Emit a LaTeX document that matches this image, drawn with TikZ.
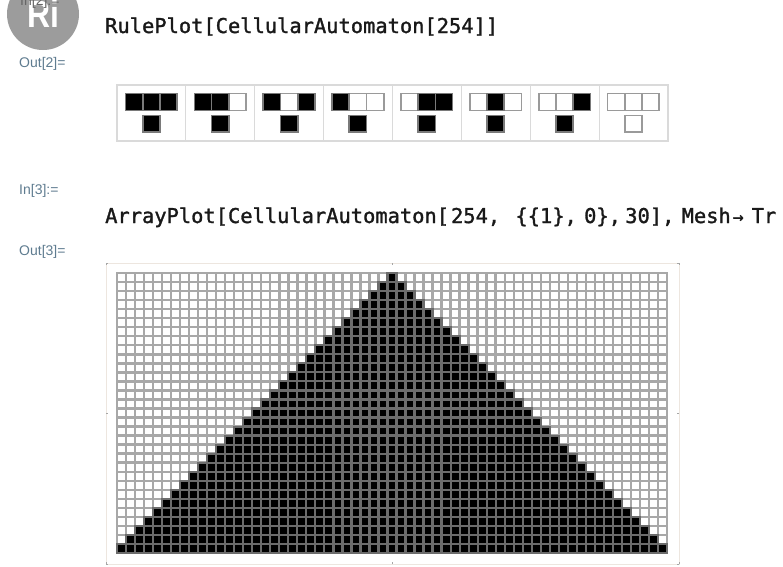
\documentclass[tikz,border=0pt]{standalone}
\usepackage{graphicx}
\usepackage{fontspec}
\setmainfont{Liberation Sans}
\newfontfamily\codefont{DejaVu Sans Mono}[FakeBold=1.4]
\definecolor{labelblue}{HTML}{5F7C90}
\definecolor{badge}{HTML}{9C9C9C}
\definecolor{meshgray}{HTML}{A8A8A8}
\definecolor{meshdark}{HTML}{6C6C6C}
\definecolor{rulegray}{HTML}{DADADA}
\definecolor{framepeach}{HTML}{EDE6DF}
\definecolor{cellgray}{HTML}{9A9A9A}
\tikzset{
  x=1pt,y=-1pt,
  label text/.style={inner sep=0pt,anchor=base west,text=labelblue,font=\fontsize{14}{14}\selectfont},
  code text/.style={inner sep=0pt,anchor=base west,text=black!90,font=\codefont\fontsize{20.4}{20.4}\selectfont},
  on cell/.style={fill=black,draw=meshdark!70!cellgray,line width=1.7pt},
  off cell/.style={fill=white,draw=cellgray,line width=1.7pt},
  rule box/.style={draw=rulegray,line width=1.2pt},
  badge text/.style={inner sep=0pt,text=white,font=\bfseries\fontsize{38}{38}\selectfont}
}
\begin{document}
\begin{tikzpicture}
\useasboundingbox[clip] (0,0) rectangle (783,566);
\fill[white] (0,0) rectangle (783,566);
\fill[badge] (43,14) circle (36);
\node[badge text] (badgetext) at (43,14) {\scalebox{0.84}[1]{Ri}};
\node[label text,text=black!60] (intwo) at (20,5) {In[2]:=};
\node[code text] (ruleplot) at (105,33) {RulePlot[CellularAutomaton[254]]};
\node[label text] (outtwo) at (19,67) {Out[2]=};
\node[label text] (inthree) at (19,194) {In[3]:=};
\node[code text] (arrayplot) at (105,223) {ArrayPlot[CellularAutomaton[\hspace{2pt}254,\hspace{3pt} \{\{1\},\hspace{-5pt} 0\},\hspace{-8pt} 30],\hspace{-5pt} Mesh\hspace{2pt}{\fontsize{18}{18}\selectfont →}\hspace{8pt}Tr};
\node[label text] (outthree) at (19,255) {Out[3]=};
% rule plot
\draw[rule box] (117,85) rectangle (668,141);
\foreach \i in {1,...,7} \draw[rule box] ({117+\i*68.875},85) -- ({117+\i*68.875},141);
\foreach \i/\a/\b/\c/\r in {0/1/1/1/1,1/1/1/0/1,2/1/0/1/1,3/1/0/0/1,4/0/1/1/1,5/0/1/0/1,6/0/0/1/1,7/0/0/0/0}{
  \pgfmathsetmacro{\xo}{125.5+\i*68.875}
  \foreach \k/\v in {0/\a,1/\b,2/\c}{
    \ifnum\v=0
      \draw[off cell] ({\xo+\k*17.2},93.5) rectangle ({\xo+(\k+1)*17.2},110.5);
    \fi
  }
  \foreach \k/\v in {0/\a,1/\b,2/\c}{
    \ifnum\v=1
      \draw[on cell] ({\xo+\k*17.2},93.5) rectangle ({\xo+(\k+1)*17.2},110.5);
    \fi
  }
  \ifnum\r=1 \def\sty{on cell}\else\def\sty{off cell}\fi
  \draw[\sty] ({\xo+17.2},115.5) rectangle ({\xo+34.4},132);
}
% array plot frame
\draw[framepeach,line width=1pt] (106,263) rectangle (679,564);
\foreach \p in {106,392.5,679}{
  \draw[black!35,line width=.8pt] (\p,263) -- (\p,265);
  \draw[black!35,line width=.8pt] (\p,564) -- (\p,562);
}
\foreach \p in {263,413.5,564}{
  \draw[black!35,line width=.8pt] (106,\p) -- (108,\p);
  \draw[black!35,line width=.8pt] (679,\p) -- (677,\p);
}
% mesh
\foreach \i in {0,...,61} \draw[meshgray,line width=2.4pt] ({117+\i*9.0164},272) -- ({117+\i*9.0164},554);
\foreach \j in {0,...,31} \draw[meshgray,line width=2.4pt] (116,{273+\j*9.0323}) -- (668,{273+\j*9.0323});
% black cells
\foreach \r in {0,...,30}{
  \pgfmathsetmacro{\xa}{117+(30-\r)*9.0164}
  \pgfmathsetmacro{\xb}{117+(31+\r)*9.0164}
  \pgfmathsetmacro{\ya}{273+\r*9.0323}
  \fill[meshdark] (\xa-1,\ya-1) rectangle (\xb+1,\ya+10.03);
  \pgfmathtruncatemacro{\last}{2*\r}
  \foreach \c in {0,...,\last}{
    \fill[black] ({\xa+\c*9.0164+1.1},\ya+1.1) rectangle ({\xa+(\c+1)*9.0164-1.1},\ya+7.93);
  }
}
\end{tikzpicture}
\end{document}
